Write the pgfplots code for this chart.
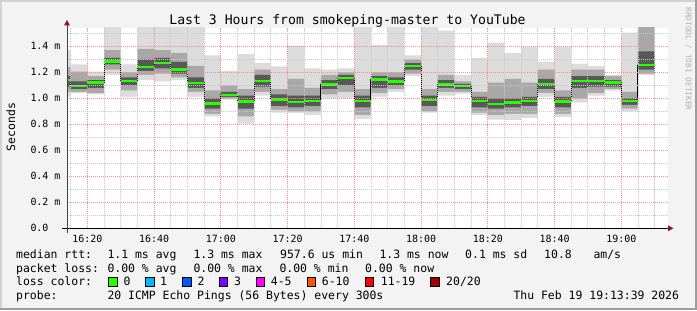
\documentclass[border=0pt]{standalone}
\usepackage{pgfplots}
\pgfplotsset{compat=1.18}
\usepackage{pgfplotstable}
\usepackage{fontspec}
\setmainfont{DejaVu Sans Mono}
\newfontfamily\mono{DejaVu Sans Mono}

\definecolor{bgc}{HTML}{F3F3F3}
\definecolor{brlight}{HTML}{D2D2D2}
\definecolor{brdark}{HTML}{9C9C9C}
\definecolor{sm1}{HTML}{DCDCDC}
\definecolor{sm2}{HTML}{A8A8A8}
\definecolor{sm3}{HTML}{585858}
\definecolor{medgreen}{HTML}{26FF00}
\definecolor{majgrid}{HTML}{F09090}
\definecolor{mingrid}{HTML}{C8C8C8}
\definecolor{arrowc}{HTML}{8B1A1A}
\definecolor{wm}{HTML}{B0B0B0}
\definecolor{lc0}{HTML}{26FF00}
\definecolor{lc1}{HTML}{00B8FF}
\definecolor{lc2}{HTML}{0059FF}
\definecolor{lc3}{HTML}{7E00FF}
\definecolor{lc4}{HTML}{FF00FF}
\definecolor{lc6}{HTML}{FF5500}
\definecolor{lc11}{HTML}{FF0000}
\definecolor{lc20}{HTML}{A10000}

% x = minutes after 16:00 (start of each 5-minute step)
\pgfplotstableread{
x   med   lo1   hi1   lo2   hi2   lo3   hi3
13  1.140 1.010 1.370 1.050 1.240 1.090 1.170
15  1.095 1.040 1.260 1.050 1.205 1.070 1.130
20  1.120 1.030 1.205 1.040 1.170 1.080 1.140
25  1.285 1.180 1.600 1.220 1.370 1.260 1.310
30  1.134 1.010 1.260 1.060 1.200 1.100 1.160
35  1.241 1.140 1.600 1.180 1.380 1.210 1.300
40  1.272 1.130 1.600 1.190 1.370 1.230 1.310
45  1.222 1.140 1.600 1.160 1.350 1.190 1.280
50  1.118 1.010 1.600 1.050 1.250 1.080 1.160
55  0.958 0.860 1.330 0.880 1.060 0.920 1.000
60  1.026 0.990 1.210 1.000 1.100 1.010 1.050
65  0.974 0.805 1.340 0.860 1.070 0.920 1.020
70  1.134 1.020 1.270 1.050 1.220 1.090 1.180
75  0.990 0.890 1.245 0.910 1.070 0.940 1.030
80  0.972 0.885 1.405 0.900 1.150 0.930 1.020
85  0.980 0.870 1.230 0.900 1.080 0.940 1.020
90  1.105 1.000 1.220 1.030 1.180 1.070 1.140
95  1.157 1.000 1.230 1.050 1.200 1.100 1.180
100 0.980 0.840 1.600 0.870 1.070 0.930 1.020
105 1.143 1.010 1.410 1.040 1.200 1.080 1.170
110 1.127 1.050 1.600 1.070 1.200 1.100 1.160
115 1.249 1.170 1.330 1.190 1.300 1.220 1.270
120 0.988 0.890 1.600 0.900 1.070 0.940 1.020
125 1.107 1.020 1.520 1.050 1.180 1.080 1.140
130 1.095 1.035 1.180 1.050 1.130 1.070 1.110
135 0.980 0.870 1.310 0.890 1.050 0.930 1.010
140 0.957 0.835 1.428 0.870 1.120 0.920 1.000
145 0.966 0.833 1.350 0.880 1.150 0.930 1.000
150 0.980 0.850 1.397 0.880 1.120 0.940 1.010
155 1.110 1.010 1.282 1.040 1.220 1.070 1.150
160 0.974 0.855 1.397 0.880 1.060 0.930 1.010
165 1.134 0.966 1.264 1.000 1.220 1.080 1.170
170 1.134 1.020 1.248 1.040 1.220 1.090 1.170
175 1.120 1.059 1.180 1.070 1.170 1.090 1.140
180 0.980 0.900 1.505 0.920 1.050 0.950 1.000
185 1.256 1.180 1.600 1.190 1.600 1.220 1.360
190 1.256 1.180 1.600 1.190 1.600 1.220 1.360
}\smoke

\begin{document}
\begin{tikzpicture}[x=1bp,y=1bp]
\fill[bgc] (0,0) rectangle (697,310);
\useasboundingbox (0,0) rectangle (697,310);
\fill[brlight] (0,308) rectangle (697,310);
\fill[brlight] (0,0) rectangle (2,310);
\fill[brdark] (0,0) rectangle (697,2);
\fill[brdark] (695,0) rectangle (697,310);

\begin{axis}[
  at={(67bp,81.7bp)}, anchor=south west,
  scale only axis, width=601.3bp, height=200.6bp,
  xmin=13.9, xmax=194.1, ymin=0, ymax=1.543,
  axis on top,
  axis line style={draw=none},
  axis background/.style={fill=white},
  major tick length=0pt, minor tick length=0pt,
  xtick={20,40,60,80,100,120,140,160,180},
  xticklabels={16:20,16:40,17:00,17:20,17:40,18:00,18:20,18:40,19:00},
  minor xtick={15,25,30,35,45,50,55,65,70,75,85,90,95,105,110,115,125,130,135,145,150,155,165,170,175,185,190},
  ytick={0,0.2,0.4,0.6,0.8,1.0,1.2,1.4},
  yticklabels={
    \makebox[30bp][l]{0.0},
    \makebox[30bp][l]{0.2 m},
    \makebox[30bp][l]{0.4 m},
    \makebox[30bp][l]{0.6 m},
    \makebox[30bp][l]{0.8 m},
    \makebox[30bp][l]{1.0 m},
    \makebox[30bp][l]{1.2 m},
    \makebox[30bp][l]{1.4 m}},
  minor ytick={0.1,0.3,0.5,0.7,0.9,1.1,1.3,1.5},
  grid=both,
  major grid style={majgrid, line width=0.8bp, dash pattern=on 1bp off 1bp},
  minor grid style={mingrid, line width=0.8bp, dash pattern=on 1bp off 1bp},
  xticklabel style={font=\mono\fontsize{10}{12}\selectfont, anchor=north, inner sep=0pt, yshift=-6.7bp},
  yticklabel style={font=\mono\fontsize{10}{12}\selectfont, anchor=east, inner sep=0pt, xshift=-6.3bp},
]
\addplot[const plot mark left, fill=sm1, draw=none] table[x=x,y=hi1]{\smoke} \closedcycle;
\addplot[const plot mark left, fill=sm2, draw=none] table[x=x,y=hi2]{\smoke} \closedcycle;
\addplot[const plot mark left, fill=sm3, draw=none] table[x=x,y=hi3]{\smoke} \closedcycle;
\addplot[const plot mark left, fill=sm2, draw=none] table[x=x,y=lo3]{\smoke} \closedcycle;
\addplot[const plot mark left, fill=sm1, draw=none] table[x=x,y=lo2]{\smoke} \closedcycle;
\addplot[const plot mark left, fill=white, draw=none] table[x=x,y=lo1]{\smoke} \closedcycle;
\addplot[const plot mark left, black, line width=1bp] table[x=x,y=med]{\smoke};
\addplot[jump mark left, medgreen, line width=2.6bp] table[x=x,y=med]{\smoke};
\end{axis}

% axes lines
\draw[black, line width=1bp] (62,81.7) -- (669,81.7);
\fill[arrowc] (668,78.7) -- (673.5,81.7) -- (668,84.7) -- cycle;
\draw[black!75, line width=1bp] (67,77) -- (67,285);
\fill[arrowc] (64,284.5) -- (67,290) -- (70,284.5) -- cycle;

% title and labels
\node[font=\mono\fontsize{13.2}{15}\selectfont, anchor=base, inner sep=0pt] at (347.5,286) {Last 3 Hours from smokeping-master to YouTube};
\node[font=\mono\fontsize{11.5}{13}\selectfont, rotate=90, inner sep=0pt] at (10.8,183) {Seconds};
\node[font=\mono\fontsize{7.8}{9}\selectfont, rotate=-90, inner sep=0pt, text=wm] at (688.5,251) {RRDTOOL / TOBI OETIKER};

% legend
\begin{scope}[every node/.style={font=\mono\fontsize{11.5}{13}\selectfont, anchor=base west, inner sep=0pt}]
\node at (16,51.7) {median rtt:};
\node at (107.3,51.7) {1.1 ms avg};
\node at (193.3,51.7) {1.3 ms max};
\node at (280,51.7) {957.6 us min};
\node at (379.3,51.7) {1.3 ms now};
\node at (465,51.7) {0.1 ms sd};
\node at (544,51.7) {10.8};
\node at (593.3,51.7) {am/s};

\node at (16,38) {packet loss:};
\node at (107.3,38) {0.00 \% avg};
\node at (193.3,38) {0.00 \% max};
\node at (279.3,38) {0.00 \% min};
\node at (365,38) {0.00 \% now};

\node at (16,24.3) {loss color:};
\node at (123.3,24.3) {0};
\node at (160,24.3) {1};
\node at (197.3,24.3) {2};
\node at (234,24.3) {3};
\node at (270.7,24.3) {4-5};
\node at (321.7,24.3) {6-10};
\node at (380.7,24.3) {11-19};
\node at (446,24.3) {20/20};

\node at (16,10.5) {probe:};
\node at (107.3,10.5) {20 ICMP Echo Pings (56 Bytes) every 300s};
\node at (513.3,10.5) {Thu Feb 19 19:13:39 2026};
\end{scope}
\foreach \bx/\col in {108.7/lc0,145.7/lc1,182.7/lc2,219.3/lc3,256/lc4,307.3/lc6,365/lc11,430.7/lc20}{
  \filldraw[fill=\col, draw=black, line width=0.8bp] (\bx,23.8) rectangle ++(8.5,8.5);
}
\end{tikzpicture}
\end{document}
